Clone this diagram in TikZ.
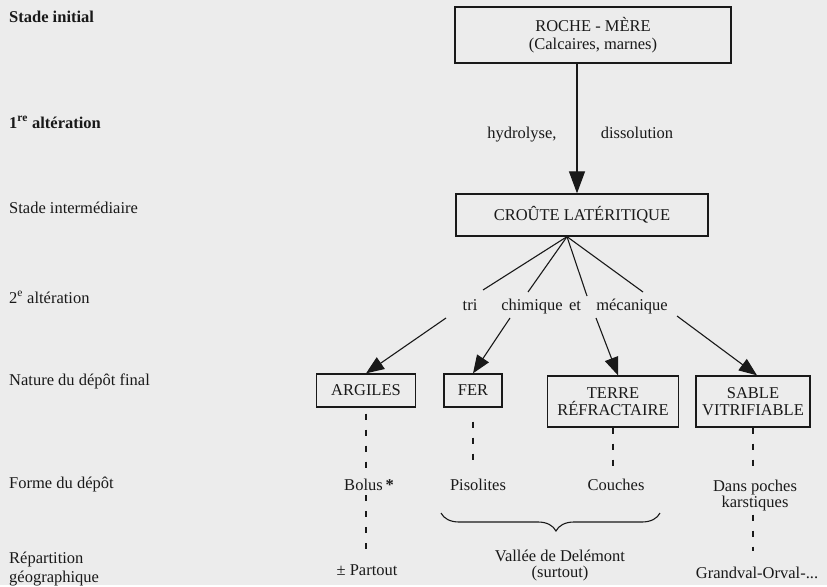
\documentclass[tikz,border=0pt]{standalone}
\usepackage{fontspec}
\setmainfont{Liberation Serif}
\usepackage{tikz}
\usetikzlibrary{positioning,arrows.meta,decorations.pathreplacing}
\definecolor{paper}{RGB}{236,236,236}
\definecolor{ink}{RGB}{25,25,25}

\begin{document}
\begin{tikzpicture}[x=1pt,y=-1pt,
font=\fontsize{16.5}{17.5}\selectfont,
squarednode/.style={rectangle, draw=ink, line width=1.3pt, text=ink, align=center, inner sep=0pt},
leftlabel/.style={anchor=base west, text=ink, align=left, inner sep=1pt},
plainlabel/.style={anchor=base, text=ink, align=center, inner sep=1pt},
bigarrow/.style={draw=ink, line width=1.2pt, -{Triangle[length=22pt,width=16pt]}},
smallarrow/.style={draw=ink, line width=1.1pt, -{Triangle[length=18pt,width=14pt]}},
thinline/.style={draw=ink, line width=1.1pt},
dashline/.style={draw=ink, line width=1.1pt, dash pattern=on 6pt off 10pt},
]
\fill[paper] (0,0) rectangle (827,585);

%Nodes
\node[leftlabel, font=\fontsize{16.5}{17.5}\selectfont\bfseries] (stinit) at (8,22) {Stade initial};
\node[leftlabel, font=\fontsize{16.5}{17.5}\selectfont\bfseries] (alt1) at (8,128) {1\textsuperscript{re} altération};
\node[leftlabel] (stinter) at (8,213) {Stade intermédiaire};
\node[leftlabel] (alt2) at (8,303) {2\textsuperscript{e} altération};
\node[leftlabel] (nature) at (8,385) {Nature du dépôt final};
\node[leftlabel] (forme) at (8,488) {Forme du dépôt};
\node[leftlabel] (repart) at (8,582) {Répartition\\[1.5pt]géographique};

\node[squarednode, minimum width=276pt, minimum height=56pt] (roche) at (593,35) {ROCHE - MÈRE\\(Calcaires, marnes)};
\node[squarednode, minimum width=252pt, minimum height=42pt] (croute) at (582,215) {CROÛTE LATÉRITIQUE};
\node[squarednode, minimum width=99pt, minimum height=33pt] (argiles) at (366,390.5) {ARGILES};
\node[squarednode, minimum width=58pt, minimum height=33pt] (fer) at (473,390.5) {FER};
\node[squarednode, minimum width=131pt, minimum height=51pt] (terre) at (613,401.5) {TERRE\\RÉFRACTAIRE};
\node[squarednode, minimum width=114pt, minimum height=51pt] (sable) at (753,401.5) {SABLE\\VITRIFIABLE};

\node[plainlabel] (hydro) at (522,138) {hydrolyse,};
\node[plainlabel] (dissol) at (637,138) {dissolution};
\node[plainlabel] (tri) at (470,310) {tri};
\node[plainlabel] (chim) at (532,310) {chimique};
\node[plainlabel] (et) at (575,310) {et};
\node[plainlabel] (meca) at (632,310) {mécanique};

\node[plainlabel] (bolus) at (369,490) {Bolus\,\textbf{*}};
\node[plainlabel] (partout) at (367,575) {± Partout};
\node[plainlabel] (pisol) at (478,490) {Pisolites};
\node[plainlabel] (couches) at (616,490) {Couches};
\node[plainlabel] (poches) at (755,507) {Dans poches\\[-2pt]karstiques};
\node[plainlabel] (vallee) at (560,577) {Vallée de Delémont\\[-2pt](surtout)};
\node[plainlabel] (grand) at (757,578) {Grandval-Orval-...};

\coordinate (apex) at ([xshift=-15pt]croute.south);
\coordinate (e1) at (483,290);
\coordinate (e2) at (528,292);
\coordinate (e3) at (587,296);
\coordinate (e4) at (643,292);
\coordinate (s1) at (446,318);
\coordinate (s2) at (510,318);
\coordinate (s3) at (596,318);
\coordinate (s4) at (677,316);
\coordinate (brl) at (441,513);
\coordinate (brr) at (660,513);

%Lines
\draw[bigarrow] ([xshift=-16pt]roche.south) -- ([xshift=-5pt]croute.north);
\draw[thinline] (apex) -- (e1);
\draw[thinline] (apex) -- (e2);
\draw[thinline] (apex) -- (e3);
\draw[thinline] (apex) -- (e4);
\draw[smallarrow] (s1) -- (argiles.north);
\draw[smallarrow] (s2) -- (fer.north);
\draw[smallarrow] (s3) -- ([xshift=5pt]terre.north);
\draw[smallarrow] (s4) -- ([xshift=4pt]sable.north);

\draw[dashline, shorten <=6pt, shorten >=6pt] (argiles.south) -- (argiles.south |- bolus.north);
\draw[dashline, shorten <=4pt, shorten >=8pt] (argiles.south |- bolus.south) -- (argiles.south |- partout.north);
\draw[dashline, shorten <=14pt, shorten >=14pt] (fer.south) -- (fer.south |- pisol.north);
\draw[dashline, shorten >=8pt] (terre.south) -- (terre.south |- couches.north);
\draw[dashline, shorten >=10pt] (sable.south) -- (sable.south |- poches.north);
\draw[dashline, shorten <=3pt, shorten >=14pt] (sable.south |- poches.south) -- (sable.south |- grand.north);

\draw[thinline, decorate, decoration={brace, mirror, amplitude=18pt, aspect=0.525}] (brl) -- (brr);

\end{tikzpicture}
\end{document}
